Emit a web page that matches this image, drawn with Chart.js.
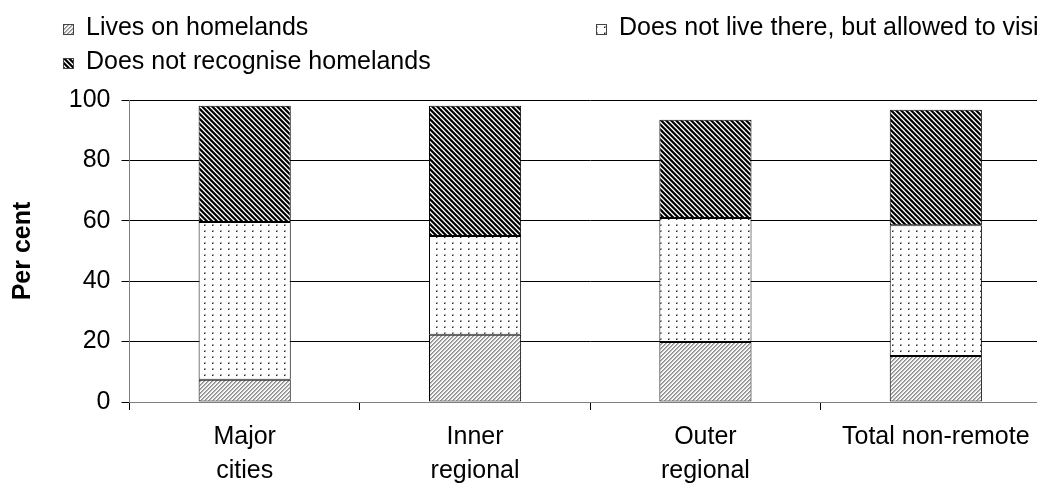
<!DOCTYPE html>
<html>
<head>
<meta charset="utf-8">
<script src="https://cdn.jsdelivr.net/npm/chart.js@4/dist/chart.umd.min.js"></script>
<style>
    html, body { margin: 0; padding: 0; background: #fff; overflow: hidden; }
    #wrap { width: 1052px; height: 484px; position: relative; }
</style>
</head>
<body>
<div id="wrap"><canvas id="homelandsChart"></canvas></div>
<script>
const categories = [['Major', 'cities'], ['Inner', 'regional'], ['Outer', 'regional'], 'Total non-remote'];
const seriesLabels = [
    'Lives on homelands',
    'Does not live there, but allowed to visit',
    'Does not recognise homelands'
];
const livesOn = [7.4, 22.3, 19.9, 15.2];
const allowedToVisit = [52.2, 32.7, 41.0, 43.3];
const notRecognise = [38.5, 43.1, 32.6, 38.3];
const yTicks = [0, 20, 40, 60, 80, 100];

const FONT = '"Liberation Sans", Arial, sans-serif';

// small tiles turned into fill patterns
function makePattern(w, h, paint) {
    const c = document.createElement('canvas');
    c.width = w;
    c.height = h;
    const g = c.getContext('2d');
    g.fillStyle = '#fff';
    g.fillRect(0, 0, w, h);
    paint(g);
    return document.createElement('canvas').getContext('2d').createPattern(c, 'repeat');
}

// light grey forward hatch
const lightHatch = makePattern(4, 4, g => {
    const shades = ['#8c8c8c', '#b0b0b0', '#eeeeee', '#ffffff'];
    for (let y = 0; y < 4; y++) {
        for (let x = 0; x < 4; x++) {
            g.fillStyle = shades[(x + y) % 4];
            g.fillRect(x, y, 1, 1);
        }
    }
});

// sparse dots on white
const dotFill = makePattern(8, 6, g => {
    g.fillStyle = '#a8a8a8';
    g.fillRect(4, 2, 2, 2);
    g.fillStyle = '#222';
    g.fillRect(4, 3, 1, 1);
});

// heavy black back hatch
const darkHatch = makePattern(5, 5, g => {
    const shades = ['#000000', '#000000', '#3c3c3c', '#ffffff', '#a0a0a0'];
    for (let y = 0; y < 5; y++) {
        for (let x = 0; x < 5; x++) {
            g.fillStyle = shades[((x - y) % 5 + 5) % 5];
            g.fillRect(x, y, 1, 1);
        }
    }
});

const fills = [lightHatch, dotFill, darkHatch];

// two-column legend above the plot
const gridLegend = {
    id: 'gridLegend',
    afterDraw(chart, args, opts) {
        const ctx = chart.ctx;
        ctx.save();
        ctx.font = opts.fontSize + 'px ' + FONT;
        ctx.textBaseline = 'middle';
        chart.data.datasets.forEach((ds, i) => {
            const pos = opts.slots[i];
            const bx = pos[0], by = pos[1];
            ctx.fillStyle = ds.backgroundColor;
            ctx.fillRect(bx, by - 5, 11, 11);
            ctx.strokeStyle = '#444';
            ctx.lineWidth = 1;
            ctx.strokeRect(bx + 0.5, by - 4.5, 10, 10);
            ctx.fillStyle = '#000';
            ctx.fillText(ds.label, bx + 23, by - 1);
        });
        ctx.restore();
    }
};

const ctx = document.getElementById('homelandsChart').getContext('2d');
const chart = new Chart(ctx, {
    type: 'bar',
    data: {
        labels: categories,
        datasets: [livesOn, allowedToVisit, notRecognise].map((values, i) => ({
            label: seriesLabels[i],
            data: values,
            backgroundColor: fills[i],
            borderColor: '#000',
            borderWidth: 1,
            borderSkipped: false,
            barPercentage: 0.4,
            categoryPercentage: 1
        }))
    },
    options: {
        responsive: true,
        maintainAspectRatio: false,
        animation: false,
        events: [],
        layout: { padding: { top: 100, right: 1, left: 0, bottom: 0 } },
        plugins: {
            legend: { display: false },
            tooltip: { enabled: false },
            gridLegend: {
                fontSize: 25,
                slots: [[63, 29], [596, 29], [63, 63]]
            }
        },
        scales: {
            x: {
                stacked: true,
                grid: {
                    drawOnChartArea: false,
                    drawTicks: true,
                    tickLength: 8,
                    color: '#000'
                },
                border: { color: '#808080' },
                ticks: {
                    color: '#000',
                    font: { family: FONT, size: 25, lineHeight: 1.35 },
                    padding: 10,
                    maxRotation: 0,
                    autoSkip: false
                },
                afterFit(scale) {
                    scale.height = 82;
                    scale.paddingLeft = 0;
                    scale.paddingRight = 0;
                }
            },
            y: {
                stacked: true,
                min: 0,
                max: 100,
                afterBuildTicks(scale) {
                    scale.ticks = yTicks.map(v => ({ value: v }));
                },
                grid: {
                    color: '#000',
                    tickLength: 8
                },
                border: { color: '#808080' },
                ticks: {
                    color: '#000',
                    font: { family: FONT, size: 25 },
                    padding: 11
                },
                title: {
                    display: true,
                    text: 'Per cent',
                    color: '#000',
                    font: { family: FONT, size: 25, weight: 'bold' },
                    padding: { top: 8, bottom: 0 }
                },
                afterFit(scale) {
                    scale.width = 129.5;
                    scale.paddingTop = 0;
                    scale.paddingBottom = 0;
                }
            }
        }
    },
    plugins: [gridLegend]
});
</script>
</body>
</html>
